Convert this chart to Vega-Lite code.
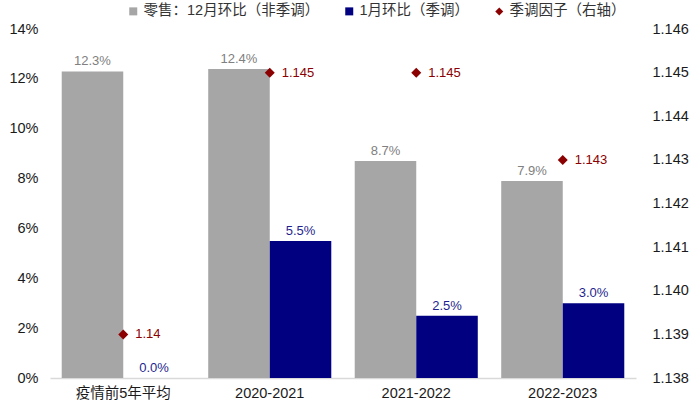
{
  "$schema": "https://vega.github.io/schema/vega-lite/v6.json",
  "width": 586,
  "height": 349,
  "autosize": {"type": "none"},
  "padding": {"left": 50, "top": 29, "right": 64, "bottom": 29},
  "background": "white",
  "config": {
    "font": "Liberation Sans, Noto Sans CJK SC, sans-serif",
    "view": {"stroke": null},
    "axis": {"labelFont": "Liberation Sans, Noto Sans CJK SC", "labelFontSize": 14.5, "labelColor": "#1a1a1a", "ticks": false, "grid": false, "title": null}
  },
  "datasets": {
    "bars": [
      {"period": "疫情前5年平均", "series": "零售：12月环比（非季调）", "value": 0.123},
      {"period": "疫情前5年平均", "series": "1月环比（季调）", "value": 0.0},
      {"period": "2020-2021", "series": "零售：12月环比（非季调）", "value": 0.124},
      {"period": "2020-2021", "series": "1月环比（季调）", "value": 0.055},
      {"period": "2021-2022", "series": "零售：12月环比（非季调）", "value": 0.087},
      {"period": "2021-2022", "series": "1月环比（季调）", "value": 0.025},
      {"period": "2022-2023", "series": "零售：12月环比（非季调）", "value": 0.079},
      {"period": "2022-2023", "series": "1月环比（季调）", "value": 0.030}
    ],
    "factor": [
      {"period": "疫情前5年平均", "series": "季调因子（右轴）", "value": 1.139, "label": "1.14"},
      {"period": "2020-2021", "series": "季调因子（右轴）", "value": 1.145, "label": "1.145"},
      {"period": "2021-2022", "series": "季调因子（右轴）", "value": 1.145, "label": "1.145"},
      {"period": "2022-2023", "series": "季调因子（右轴）", "value": 1.143, "label": "1.143"}
    ]
  },
  "encoding": {
    "x": {
      "field": "period", "type": "nominal", "sort": null,
      "scale": {"paddingInner": 0.16, "paddingOuter": 0.08},
      "axis": {"labelAngle": 0, "labelPadding": 8, "domain": true, "domainColor": "#D9D9D9", "domainWidth": 1.5}
    }
  },
  "layer": [
    {
      "data": {"name": "bars"},
      "layer": [
        {
          "mark": {"type": "bar"},
          "encoding": {
            "xOffset": {"field": "series", "type": "nominal", "sort": null, "scale": {"paddingInner": 0, "domain": ["零售：12月环比（非季调）", "1月环比（季调）"]}},
            "y": {"field": "value", "type": "quantitative", "scale": {"domain": [0, 0.14], "nice": false, "zero": true}, "axis": {"values": [0, 0.02, 0.04, 0.06, 0.08, 0.1, 0.12, 0.14], "format": ".0%", "domain": false, "labelPadding": 12}},
            "color": {
              "field": "series", "type": "nominal",
              "scale": {"domain": ["零售：12月环比（非季调）", "1月环比（季调）", "季调因子（右轴）"], "range": ["#A6A6A6", "#000080", "#8B0000"]},
              "legend": {"orient": "none", "legendX": 76, "legendY": -25, "direction": "horizontal", "title": null, "labelFontSize": 14.5, "labelLimit": 400, "labelColor": "#333333", "labelFont": "Liberation Sans, Noto Sans CJK SC", "symbolSize": 64, "symbolStrokeWidth": 0, "columnPadding": 22, "labelOffset": 3}
            }
          }
        },
        {
          "transform": [{"filter": "datum.series === '零售：12月环比（非季调）'"}],
          "mark": {"type": "text", "dy": -10, "fontSize": 13, "color": "#808080"},
          "encoding": {
            "xOffset": {"field": "series", "type": "nominal", "sort": null, "scale": {"paddingInner": 0, "domain": ["零售：12月环比（非季调）", "1月环比（季调）"]}},
            "y": {"field": "value", "type": "quantitative", "scale": {"domain": [0, 0.14], "nice": false}},
            "text": {"field": "value", "type": "quantitative", "format": ".1%"}
          }
        },
        {
          "transform": [{"filter": "datum.series === '1月环比（季调）'"}],
          "mark": {"type": "text", "dy": -10, "fontSize": 13, "color": "#1F1F8F"},
          "encoding": {
            "xOffset": {"field": "series", "type": "nominal", "sort": null, "scale": {"paddingInner": 0, "domain": ["零售：12月环比（非季调）", "1月环比（季调）"]}},
            "y": {"field": "value", "type": "quantitative", "scale": {"domain": [0, 0.14], "nice": false}},
            "text": {"field": "value", "type": "quantitative", "format": ".1%"}
          }
        }
      ]
    },
    {
      "data": {"name": "factor"},
      "layer": [
        {
          "mark": {"type": "point", "shape": "diamond", "filled": true, "size": 100, "opacity": 1},
          "encoding": {
            "y": {"field": "value", "type": "quantitative", "scale": {"domain": [1.138, 1.146], "nice": false, "zero": false}, "axis": {"orient": "right", "values": [1.138, 1.139, 1.14, 1.141, 1.142, 1.143, 1.144, 1.145, 1.146], "format": ".3f", "domain": false, "labelPadding": 16}},
            "color": {"field": "series", "type": "nominal"},
            "shape": {"field": "series", "type": "nominal", "scale": {"domain": ["零售：12月环比（非季调）", "1月环比（季调）", "季调因子（右轴）"], "range": ["square", "square", "diamond"]}}
          }
        },
        {
          "mark": {"type": "text", "align": "left", "dx": 12, "fontSize": 13, "color": "#8B0000"},
          "encoding": {
            "y": {"field": "value", "type": "quantitative"},
            "text": {"field": "label", "type": "nominal"}
          }
        }
      ]
    }
  ],
  "resolve": {"scale": {"y": "independent"}}
}
